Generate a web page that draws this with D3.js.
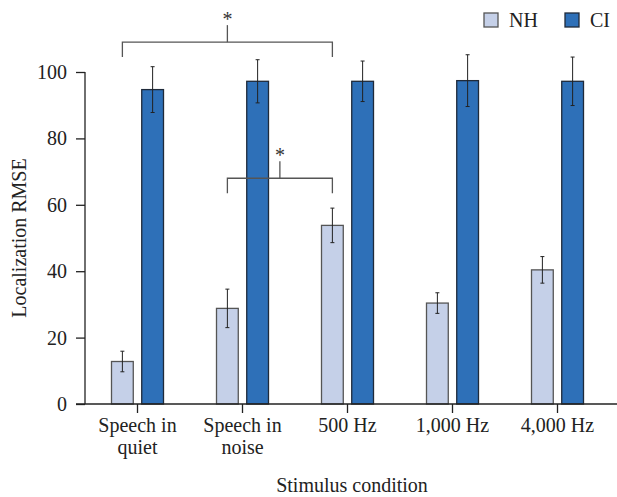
<!DOCTYPE html>
<html>
<head>
<meta charset="utf-8">
<script src="https://cdn.jsdelivr.net/npm/d3@7"></script>
<style>
  body { margin: 0; background: #fff; }
  svg { display: block; font-family: "Liberation Serif", "Times New Roman", serif; }
</style>
</head>
<body>
<div id="chart"></div>
<script>
// data
const conditions = ["Speech in quiet", "Speech in noise", "500 Hz", "1,000 Hz", "4,000 Hz"];
const labelLines = [["Speech in", "quiet"], ["Speech in", "noise"], ["500 Hz"], ["1,000 Hz"], ["4,000 Hz"]];
const groups = ["NH", "CI"];
const nhMean = [12.8, 28.8, 53.8, 30.4, 40.4];
const nhErr = [3.1, 5.8, 5.2, 3.1, 4.0];
const ciMean = [94.7, 97.2, 97.2, 97.4, 97.2];
const ciErr = [6.9, 6.5, 6.1, 7.8, 7.3];
const yTicks = [0, 20, 40, 60, 80, 100];
// significance brackets: [from condition, to condition, height]
const brackets = [
  { from: "Speech in quiet", to: "500 Hz", level: 109 },
  { from: "Speech in noise", to: "500 Hz", level: 68 }
];

const W = 617, H = 497;
const margin = { top: 72, right: 2, bottom: 93, left: 85 };

const svg = d3.select("#chart").append("svg")
  .attr("width", W)
  .attr("height", H);

const y = d3.scaleLinear()
  .domain([0, 100])
  .range([H - margin.bottom, margin.top]);

const x = d3.scaleBand()
  .domain(conditions)
  .range([85, 610])
  .paddingInner(0)
  .paddingOuter(0);

const xSub = d3.scaleBand()
  .domain(groups)
  .range([-26, 26])
  .paddingInner(0.28);

const color = { NH: "#c5d0e8", CI: "#2e70b8" };
const stroke = { NH: "#555", CI: "#1f2a3a" };

const data = conditions.map((c, i) => ({
  cond: c,
  vals: [
    { key: "NH", mean: nhMean[i], err: nhErr[i] },
    { key: "CI", mean: ciMean[i], err: ciErr[i] }
  ]
}));

const cx = c => x(c) + x.bandwidth() / 2;

// bars
const g = svg.append("g");
const grp = g.selectAll("g.cond")
  .data(data)
  .join("g")
  .attr("class", "cond")
  .attr("transform", d => `translate(${cx(d.cond)},0)`);

grp.selectAll("rect")
  .data(d => d.vals)
  .join("rect")
  .attr("x", d => xSub(d.key))
  .attr("width", xSub.bandwidth())
  .attr("y", d => y(d.mean))
  .attr("height", d => y(0) - y(d.mean))
  .attr("fill", d => color[d.key])
  .attr("stroke", d => stroke[d.key])
  .attr("stroke-width", 1.3);

// error bars
const eb = grp.selectAll("g.err")
  .data(d => d.vals)
  .join("g")
  .attr("class", "err")
  .attr("stroke", "#222")
  .attr("stroke-width", 1);
eb.append("line")
  .attr("x1", d => xSub(d.key) + xSub.bandwidth() / 2)
  .attr("x2", d => xSub(d.key) + xSub.bandwidth() / 2)
  .attr("y1", d => y(d.mean + d.err))
  .attr("y2", d => y(d.mean - d.err));
eb.selectAll("line.cap")
  .data(d => [d.mean + d.err, d.mean - d.err].map(v => ({ v, key: d.key })))
  .join("line")
  .attr("class", "cap")
  .attr("x1", d => xSub(d.key) + xSub.bandwidth() / 2 - 2)
  .attr("x2", d => xSub(d.key) + xSub.bandwidth() / 2 + 2)
  .attr("y1", d => y(d.v))
  .attr("y2", d => y(d.v));

// y axis
const yAxis = svg.append("g")
  .attr("transform", `translate(${margin.left},0)`)
  .call(d3.axisLeft(y).tickValues(yTicks).tickSize(9).tickPadding(9));
yAxis.select(".domain").attr("d", `M0,${y(0)}V${y(100)}`);
yAxis.selectAll("line").attr("stroke", "#222").attr("stroke-width", 1.3);
yAxis.select(".domain").attr("stroke", "#222").attr("stroke-width", 1.3);
yAxis.selectAll("text")
  .attr("font-size", 20)
  .attr("fill", "#222")
  .attr("font-family", "Liberation Serif");

// x axis
const xAxis = svg.append("g")
  .attr("transform", `translate(0,${y(0)})`)
  .call(d3.axisBottom(x).tickSize(9).tickFormat(""));
xAxis.select(".domain").attr("d", `M76,0H617`).attr("stroke", "#222").attr("stroke-width", 1.3);
xAxis.selectAll("line").attr("stroke", "#222").attr("stroke-width", 1.3);
xAxis.selectAll(".tick").each(function (d, i) {
  const t = d3.select(this).append("text")
    .attr("text-anchor", "middle")
    .attr("fill", "#222")
    .attr("font-size", 20)
    .attr("font-family", "Liberation Serif");
  labelLines[i].forEach((ln, j) => {
    t.append("tspan").attr("x", 0).attr("y", 28 + j * 22).text(ln);
  });
});

// axis titles
svg.append("text")
  .attr("x", 352)
  .attr("y", 492)
  .attr("text-anchor", "middle")
  .attr("font-size", 20)
  .attr("fill", "#222")
  .text("Stimulus condition");

svg.append("text")
  .attr("transform", `translate(26,${y(50)}) rotate(-90)`)
  .attr("text-anchor", "middle")
  .attr("font-size", 20)
  .attr("fill", "#222")
  .text("Localization RMSE");

// significance brackets
const nhX = c => cx(c) + xSub("NH") + xSub.bandwidth() / 2;
brackets.forEach(b => {
  const x1 = nhX(b.from), x2 = nhX(b.to), yb = y(b.level);
  const mid = (x1 + x2) / 2;
  const bg = svg.append("g").attr("stroke", "#555").attr("stroke-width", 1.3).attr("fill", "none");
  bg.append("path").attr("d", `M${x1},${yb + 15}V${yb}H${x2}V${yb + 15}`);
  bg.append("line").attr("x1", mid).attr("x2", mid).attr("y1", yb).attr("y2", yb - 17);
  svg.append("text")
    .attr("x", mid)
    .attr("y", yb - 16)
    .attr("text-anchor", "middle")
    .attr("font-size", 20)
    .attr("fill", "#333")
    .text("*");
});

// legend
const leg = svg.append("g").attr("transform", "translate(484,13)");
groups.forEach((k, i) => {
  const lg = leg.append("g").attr("transform", `translate(${i * 81},0)`);
  lg.append("rect")
    .attr("width", 14).attr("height", 14)
    .attr("fill", color[k])
    .attr("stroke", stroke[k])
    .attr("stroke-width", 1.3);
  lg.append("text")
    .attr("x", 25).attr("y", 14)
    .attr("font-size", 20)
    .attr("fill", "#222")
    .text(k);
});
</script>
</body>
</html>
